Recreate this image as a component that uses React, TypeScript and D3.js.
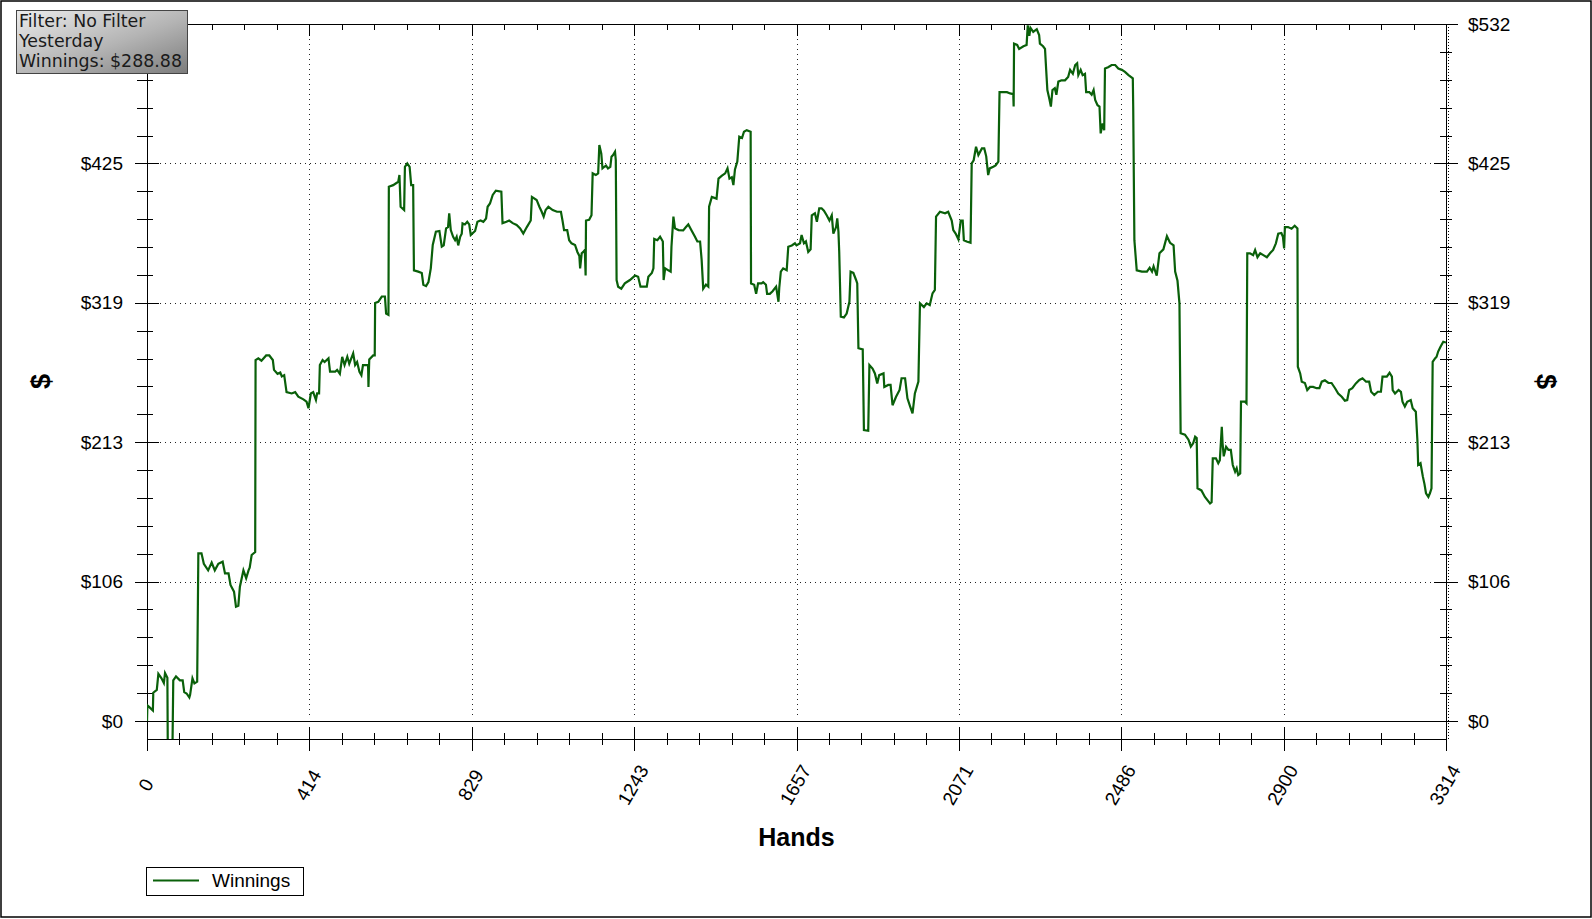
import React from 'react';
import * as d3 from 'd3';

// ---------- DATA ----------
const hands: number[] = [
  0, 1, 8, 15, 16, 25, 29, 37, 43, 46, 52, 53, 65, 67, 74, 84, 91, 95, 101, 108, 110, 116, 121, 128, 131, 139, 145, 156, 165, 173, 182, 193, 199, 208, 213, 222, 227, 233, 237, 246, 253, 259, 262, 267, 276, 277, 284, 292, 304, 312, 321, 324, 333, 340, 344, 350, 356, 369, 378, 386, 399, 407, 412, 418, 424, 431, 434, 439, 441, 448, 453, 463, 467, 480, 485, 492, 498, 504, 511, 516, 526, 531, 536, 542, 547, 551, 564, 565, 567, 577, 581, 582,
  590, 599, 607, 610, 616, 617, 628, 641, 644, 647, 656, 658, 664, 670, 674, 679, 681, 692, 701, 705, 712, 718, 724, 729, 737, 746, 752, 757, 763, 768, 771, 775, 781, 786, 790, 794, 799, 803, 805, 811, 817, 822, 826, 837, 843, 851, 858, 865, 869, 875, 882, 890, 904, 907, 917, 924, 933, 943, 952, 960, 969, 979, 982, 994, 1001, 1007, 1012, 1017, 1024, 1035, 1046, 1056, 1060, 1064, 1072, 1077, 1083, 1092, 1098, 1103, 1105, 1109, 1113, 1117, 1119, 1120, 1128, 1134, 1137, 1145, 1151, 1154, 1159, 1162, 1171, 1176, 1182, 1185, 1189, 1194, 1196, 1198, 1202, 1210, 1219, 1232, 1245, 1253,
  1259, 1275, 1279, 1288, 1292, 1294, 1302, 1309, 1316, 1318, 1322, 1330, 1336, 1338, 1343, 1347, 1356, 1368, 1375, 1381, 1390, 1398, 1404, 1411, 1415, 1419, 1426, 1432, 1434, 1441, 1453, 1458, 1466, 1475, 1481, 1486, 1492, 1496, 1500, 1506, 1511, 1518, 1523, 1530, 1540, 1541, 1549, 1554, 1559, 1568, 1572, 1579, 1582, 1589, 1596, 1605, 1611, 1613, 1617, 1623, 1632, 1636, 1645, 1653, 1657, 1666, 1670, 1676, 1681, 1687, 1693, 1696, 1704, 1709, 1715, 1721, 1727, 1734, 1741, 1747, 1751, 1758, 1761, 1764, 1766, 1770, 1778, 1785, 1792, 1795, 1802, 1809, 1812, 1815, 1826, 1829, 1840, 1843, 1851, 1857, 1863, 1868, 1879, 1881, 1891, 1897, 1902, 1911, 1920, 1925, 1934, 1940, 1947, 1953, 1959, 1968, 1972, 1982, 1989, 1997, 2004, 2010, 2013, 2023, 2036, 2044, 2053, 2057, 2063, 2070, 2076, 2081, 2084, 2091, 2101, 2104, 2109, 2115, 2121, 2130, 2136, 2141, 2146, 2150, 2159, 2165, 2172, 2175, 2183, 2194, 2202, 2210, 2211, 2212, 2220, 2225, 2236, 2244, 2247, 2251, 2254, 2261, 2270, 2276, 2278, 2286, 2291, 2294, 2297, 2302, 2306, 2310, 2316, 2320, 2325, 2333, 2342, 2350, 2355, 2362, 2368, 2373, 2376, 2382, 2387, 2393, 2396, 2404, 2410, 2415, 2419, 2425, 2430, 2433, 2438, 2442, 2444, 2452, 2461, 2470, 2478, 2487, 2495, 2504, 2515, 2516, 2519, 2525, 2538, 2551, 2558, 2564, 2568, 2576, 2583, 2593, 2602, 2610, 2619, 2623, 2629, 2634, 2637, 2648, 2657, 2663, 2669, 2674, 2678, 2680, 2690, 2699, 2712, 2716, 2719, 2727, 2733, 2737, 2742, 2744, 2747, 2753, 2759, 2765, 2770, 2776, 2780, 2784, 2789, 2791, 2801, 2805, 2807, 2814, 2822, 2827, 2833, 2840, 2848, 2857, 2865, 2873, 2880, 2886, 2894, 2898, 2901, 2903, 2911, 2920, 2928, 2935, 2936, 2942, 2946, 2954, 2960, 2967, 2975, 2984, 2991, 2997, 3005, 3014, 3022, 3031, 3039, 3048, 3056, 3062, 3067, 3075, 3084, 3093, 3101, 3110, 3118, 3123, 3131, 3140, 3148, 3152, 3163, 3170, 3176, 3178, 3184, 3193, 3199, 3203, 3209, 3215, 3224, 3229, 3237, 3241, 3243, 3249, 3255, 3259, 3263, 3269, 3273, 3277, 3280, 3286, 3290, 3294, 3300, 3307, 3314,
];

const winnings: number[] = [
  0, 12, 10, 8, 21.6, 23.7, 36, 32.6, 29, 36.6, 33, -20, -20, 31, 34, 31, 31, 22, 21, 18, 20, 32.6, 28.7, 30, 128, 128, 120, 115, 121, 115, 120, 121.6, 112.7, 112.7, 103.8, 98.7, 87.2, 88, 102.5, 115, 109, 115, 117, 126.7, 129, 275.5, 276.8, 275, 279, 279, 275.5, 268, 265, 266, 263, 264, 251, 250, 251, 247.5, 245.5, 243.7, 238.7, 250, 251, 245, 250, 250, 271.7, 275.5, 274, 276.8, 266.6, 266.6, 268, 265, 278, 271.7, 278, 272.7, 280.6, 271.7, 274, 266.6, 264, 271.7, 271.7, 255, 276, 279, 279, 319,
  320, 324, 324, 311, 310, 407.8, 409, 411.6, 416.7, 392.5, 390, 423, 425.6, 423, 409, 409, 344, 343, 342, 333, 332, 335, 345.5, 363.3, 373.5, 374, 362, 363, 376, 377, 387.5, 374.7, 369.6, 367, 369.6, 363, 369.6, 372, 379.8, 379, 381, 379, 371, 374, 381, 382, 381, 383.6, 392.5, 395, 401.5, 404.8, 404, 380, 381, 382, 380, 378.6, 376, 372, 377, 382, 400, 397.7, 392.5, 388.7, 385, 390, 392.5, 390, 388.7, 388.7, 382, 374.7, 374.7, 367, 364.6, 363.3, 358, 355, 345.5, 357, 358, 359.5, 340, 382, 382.5, 386, 418, 416.7, 418, 439.6, 433, 421.8, 424, 421.8, 423, 430.7, 432, 434.5, 428, 336.6, 331.5, 330, 334, 336.6, 340, 339,
  331.5, 331.5, 339, 342, 345.5, 368, 367, 369.6, 366, 336.6, 345.5, 344, 343, 362, 385, 376, 374.7, 374.5, 377, 379, 374, 369.6, 366, 366, 352, 330, 333, 331.5, 392.5, 400, 398.7, 414, 416, 418, 421.8, 414, 415, 409, 421, 427, 446, 445, 449.8, 451, 449.8, 334, 333, 326, 334, 334, 335, 333, 326, 326, 328, 331.5, 320, 330.5, 343, 345.5, 344, 362, 363, 364.6, 363, 364.6, 371, 364.6, 366, 358, 360, 386, 387.5, 381, 391.3, 391.3, 389.5, 386, 382, 386, 372, 377, 383.6, 373.5, 358, 308.6, 308, 311, 320, 343, 342, 336.6, 334, 284.5, 283.6, 222, 221.5, 271.7, 269, 265.3, 257.7, 264, 265.3, 255, 256.5, 256.5, 241, 247.5, 252.7, 261.6, 261.6, 246.3, 240, 234.8, 250, 259, 318.8, 316, 318.8, 317.5, 326.4, 329, 385, 388.7, 387.5, 388.7, 382, 374.7, 372, 367.6, 382, 382, 367, 366, 365, 425.6, 428, 438.3, 432, 437, 437, 431, 416.7, 421.8, 423, 424, 427, 480, 480, 480, 479, 478.5, 469, 517, 516, 513, 515, 516, 531, 523, 529, 526, 528, 523.6, 517, 515, 513, 497, 481.6, 475, 469, 481.6, 483, 478, 488, 489, 489, 491.6, 497, 494, 500.7, 502, 493, 497, 493, 494, 480, 480, 478, 481.6, 474, 470, 469, 448.5, 456, 451, 498, 499, 500.7, 500.7, 498, 497, 495.5, 493, 490.5, 469, 367, 344, 343, 343, 346, 343, 347, 340, 357, 360, 370, 365, 363, 343, 336, 318.8, 219.6, 218.5, 214.7, 209.4, 212, 217, 216, 177.6, 176, 171, 166, 167, 200.5, 200.5, 196.7, 199, 224.6, 212, 202, 209.4, 207, 207, 195.4, 190.3, 193, 187.8, 189, 243.7, 243.7, 242.5, 357, 357, 355.6, 359.5, 354, 357, 355.6, 354, 357, 359.5, 364.6, 372, 372.5, 369.6, 360.7, 377, 377, 375.7, 378, 376, 270.4, 265.3, 259, 258, 252.6, 255, 255, 254, 254, 259, 260, 258, 258, 254, 250, 247.5, 244.5, 245, 252.7, 254, 257.7, 260.3, 261.6, 259, 259, 251.3, 248.8, 251.3, 251.3, 262.8, 262.8, 265.8, 262.8, 252.6, 250, 252.6, 251.3, 243.7, 240, 243.7, 245, 238.7, 236, 214.5, 195.4, 196.7, 186.5, 181, 173.8, 171, 173.8, 177.6, 274.2, 276.8, 278, 282, 285.7, 289.5, 288.88,
];

const xTickValues = [0, 414.25, 828.5, 1242.75, 1657, 2071.25, 2485.5, 2899.75, 3314];
const xTickLabels = ['0', '414', '829', '1243', '1657', '2071', '2486', '2900', '3314'];
const yTickValues = [0, 106.4, 212.8, 319.2, 425.6, 532];
const yTickLabels = ['$0', '$106', '$213', '$319', '$425', '$532'];
const infoLines = ['Filter: No Filter', 'Yesterday', 'Winnings: $288.88'];
const seriesName = 'Winnings';
const xTitle = 'Hands';
const yTitle = '$';

// ---------- LAYOUT ----------
const W = 1592;
const H = 919;
const L = 147;
const R = 1446;
const T = 24;
const B = 739;
const ZERO_Y = 721;
const LINE_COLOR = '#0a600a';
const FONT = '"Liberation Sans", Arial, sans-serif';

export default function App() {
  const x = d3.scaleLinear().domain([0, 3314]).range([L, R]);
  const y = d3.scaleLinear().domain([0, 532]).range([ZERO_Y, T]);

  const pts: [number, number][] = hands.map((h, i) => [h, winnings[i]]);
  const lineGen = d3
    .line<[number, number]>()
    .x((d) => x(d[0]))
    .y((d) => y(d[1]));
  const path = lineGen(pts) || '';

  // minor ticks (5 subdivisions)
  const xMinor: number[] = [];
  for (let i = 0; i < xTickValues.length - 1; i++) {
    const a = xTickValues[i];
    const b = xTickValues[i + 1];
    for (let k = 1; k < 5; k++) xMinor.push(a + ((b - a) * k) / 5);
  }
  const yMinor: number[] = [];
  for (let i = 0; i < yTickValues.length - 1; i++) {
    const a = yTickValues[i];
    const b = yTickValues[i + 1];
    for (let k = 1; k < 5; k++) yMinor.push(a + ((b - a) * k) / 5);
  }

  const plotMidY = (T + B) / 2;

  return (
    <svg
      width={W}
      height={H}
      style={{ position: 'absolute', left: 0, top: 0, background: '#fff' }}
      xmlns="http://www.w3.org/2000/svg"
    >
      <defs>
        <clipPath id="plotClip">
          <rect x={L} y={T - 2} width={R - L} height={B - T + 2} />
        </clipPath>
        <linearGradient id="infoGrad" x1="0" y1="0" x2="1" y2="1">
          <stop offset="0%" stopColor="#ececec" />
          <stop offset="55%" stopColor="#b4b4b4" />
          <stop offset="100%" stopColor="#7c7c7c" />
        </linearGradient>
      </defs>

      <rect x={0} y={0} width={W} height={H} fill="#fff" />
      {/* outer frame */}
      <rect x={1} y={1} width={W - 2} height={H - 3} fill="none" stroke="#000" strokeWidth={1.5} />

      {/* grid lines */}
      <g stroke="#222" strokeWidth={1} strokeDasharray="1,4">
        {xTickValues.slice(1, -1).map((v, i) => (
          <line key={'gx' + i} x1={Math.round(x(v)) + 0.5} x2={Math.round(x(v)) + 0.5} y1={T} y2={ZERO_Y - 4} />
        ))}
        {yTickValues.slice(1, -1).map((v, i) => (
          <line key={'gy' + i} x1={L + 13} x2={R - 12} y1={Math.round(y(v)) + 0.5} y2={Math.round(y(v)) + 0.5} />
        ))}
      </g>

      {/* zero line */}
      <line x1={L - 12} x2={R + 12} y1={ZERO_Y + 0.5} y2={ZERO_Y + 0.5} stroke="#000" strokeWidth={1} />

      {/* axes frame lines */}
      <g stroke="#000" strokeWidth={1} fill="none">
        <line x1={L + 0.5} x2={L + 0.5} y1={T} y2={B} />
        <line x1={R + 0.5} x2={R + 0.5} y1={T} y2={B} />
        <line x1={L} x2={R + 1} y1={T + 0.5} y2={T + 0.5} />
        <line x1={L} x2={R + 1} y1={B + 0.5} y2={B + 0.5} />
      </g>

      {/* right axis fine dots */}
      <line x1={R + 2.5} x2={R + 2.5} y1={T} y2={B} stroke="#000" strokeWidth={1} strokeDasharray="1,2" />

      {/* bottom and top ticks */}
      <g stroke="#000" strokeWidth={1}>
        {xTickValues.map((v, i) => {
          const px = Math.round(x(v)) + 0.5;
          return (
            <g key={'xt' + i}>
              <line x1={px} x2={px} y1={B - 12} y2={B + 12} />
              <line x1={px} x2={px} y1={T} y2={T + 12} />
            </g>
          );
        })}
        {xMinor.map((v, i) => {
          const px = Math.round(x(v)) + 0.5;
          return (
            <g key={'xm' + i}>
              <line x1={px} x2={px} y1={B - 6} y2={B + 6} />
              <line x1={px} x2={px} y1={T} y2={T + 6} />
            </g>
          );
        })}
        {yTickValues.map((v, i) => {
          const py = Math.round(y(v)) + 0.5;
          return (
            <g key={'yt' + i}>
              <line x1={L - 12} x2={L + 12} y1={py} y2={py} />
              <line x1={R - 12} x2={R + 12} y1={py} y2={py} />
            </g>
          );
        })}
        {yMinor.map((v, i) => {
          const py = Math.round(y(v)) + 0.5;
          return (
            <g key={'ym' + i}>
              <line x1={L - 10} x2={L + 6} y1={py} y2={py} />
              <line x1={R - 6} x2={R + 6} y1={py} y2={py} />
            </g>
          );
        })}
      </g>

      {/* data line */}
      <g clipPath="url(#plotClip)">
        <path d={path} fill="none" stroke={LINE_COLOR} strokeWidth={2.2} strokeLinejoin="miter" />
      </g>

      {/* y tick labels */}
      <g fontFamily={FONT} fontSize={19} fill="#000">
        {yTickValues.map((v, i) => (
          <text key={'yl' + i} x={123} y={y(v)} textAnchor="end" dominantBaseline="central">
            {yTickLabels[i]}
          </text>
        ))}
        {yTickValues.map((v, i) => (
          <text key={'yr' + i} x={1468} y={y(v)} textAnchor="start" dominantBaseline="central">
            {yTickLabels[i]}
          </text>
        ))}
      </g>

      {/* x tick labels */}
      <g fontFamily={FONT} fontSize={19} fill="#000">
        {xTickValues.map((v, i) => (
          <text
            key={'xl' + i}
            transform={`translate(${x(v) - 1},${785}) rotate(-60)`}
            textAnchor="middle"
            dominantBaseline="central"
          >
            {xTickLabels[i]}
          </text>
        ))}
      </g>

      {/* axis titles */}
      <text x={(L + R) / 2} y={846} textAnchor="middle" fontFamily={FONT} fontWeight="bold" fontSize={25}>
        {xTitle}
      </text>
      <text
        transform={`translate(41,${plotMidY}) rotate(-90)`}
        textAnchor="middle"
        dominantBaseline="central"
        fontFamily={FONT}
        fontWeight="bold"
        fontSize={27}
      >
        {yTitle}
      </text>
      <text
        transform={`translate(1546,${plotMidY}) rotate(90)`}
        textAnchor="middle"
        dominantBaseline="central"
        fontFamily={FONT}
        fontWeight="bold"
        fontSize={27}
      >
        {yTitle}
      </text>

      {/* info box */}
      <rect x={16.5} y={10.5} width={171} height={63} fill="url(#infoGrad)" stroke="#444" strokeWidth={1} />
      <g fontFamily='"DejaVu Sans", Verdana, sans-serif' fontSize={17.4} fill="#1a1a1a">
        {infoLines.map((t, i) => (
          <text key={'il' + i} x={19} y={27 + i * 20}>
            {t}
          </text>
        ))}
      </g>

      {/* legend */}
      <rect x={146.5} y={867.5} width={157} height={28} fill="#fff" stroke="#000" strokeWidth={1} />
      <line x1={153} x2={199} y1={880.5} y2={880.5} stroke={LINE_COLOR} strokeWidth={2} />
      <text x={212} y={887} fontFamily={FONT} fontSize={19} fill="#000">
        {seriesName}
      </text>
    </svg>
  );
}
